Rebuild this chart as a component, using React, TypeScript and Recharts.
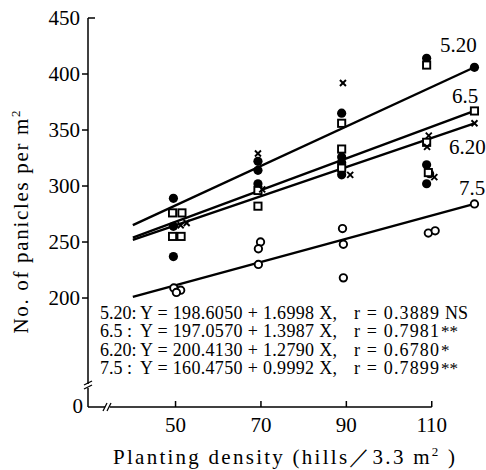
import React from 'react';
import {
  ComposedChart,
  Line,
  Scatter,
  XAxis,
  YAxis,
  ReferenceLine,
} from 'recharts';

// fitted lines, read at both ends (X = 40 and X = 120)
const fitX = [40, 120];
const fit520 = [265, 406];
const fit65 = [254, 367];
const fit620 = [252, 356];
const fit75 = [201, 284];

// observed points per transplanting date
const obs520X = [49.5, 49.5, 49.5, 69.3, 69.3, 69.3, 88.9, 88.9, 88.9, 88.9, 108.8, 108.8, 108.8, 109.5];
const obs520Y = [289, 264, 237, 322, 314, 302, 365, 326, 321, 310, 414, 319, 302, 311];
const obs65X = [49.3, 51.5, 49.3, 51.3, 69.3, 69.3, 88.9, 88.9, 88.9, 108.8, 108.8, 109.2];
const obs65Y = [276, 276, 255, 255, 296, 282, 356, 333, 316, 408, 339, 312];
const obs620X = [51.2, 52.6, 69.3, 70.3, 89.2, 90.9, 89.1, 109.3, 108.9, 110.6];
const obs620Y = [265, 267, 329, 297, 392, 310, 323, 345, 335, 308];
const obs75X = [49.6, 51.2, 50.2, 69.9, 69.4, 69.4, 89.1, 89.3, 89.3, 109.2, 110.8];
const obs75Y = [209, 207, 205, 250, 244, 230, 262, 248, 218, 258, 260];

const eqLabels = ['5.20:', '6.5 :', '6.20:', '7.5 :'];
const eqBodies = [
  'Y = 198.6050 + 1.6998 X,',
  'Y = 197.0570 + 1.3987 X,',
  'Y = 200.4130 + 1.2790 X,',
  'Y = 160.4750 + 0.9992 X,',
];
const eqR = ['r = 0.3889', 'r = 0.7981', 'r = 0.6780', 'r = 0.7899'];
const eqSig = ['NS', '**', '*', '**'];
const lineNames = ['5.20', '6.5', '6.20', '7.5'];

const xTicks = [50, 70, 90, 110];
const Y_MIN = 102.7;
const yTicks = [Y_MIN, 200, 250, 300, 350, 400, 450];

const FONT = '"Liberation Serif", "DejaVu Serif", serif';

const toPts = (xs: number[], ys: number[]) => xs.map((x, i) => ({ x, y: ys[i] }));

type Kind = 'dot' | 'square' | 'cross' | 'ring';

function marker(kind: Kind, cx: number, cy: number, key?: string | number) {
  if (kind === 'dot') return <circle key={key} cx={cx} cy={cy} r={4.6} fill="#000" />;
  if (kind === 'ring')
    return <circle key={key} cx={cx} cy={cy} r={3.7} fill="#fff" stroke="#000" strokeWidth={1.9} />;
  if (kind === 'square')
    return (
      <rect key={key} x={cx - 3.6} y={cy - 3.6} width={7.2} height={7.2} fill="#fff" stroke="#000" strokeWidth={1.9} />
    );
  return (
    <g key={key} stroke="#000" strokeWidth={1.9}>
      <line x1={cx - 3} y1={cy - 3} x2={cx + 3} y2={cy + 3} />
      <line x1={cx - 3} y1={cy + 3} x2={cx + 3} y2={cy - 3} />
    </g>
  );
}

const series: { kind: Kind; fit: number[]; xs: number[]; ys: number[] }[] = [
  { kind: 'dot', fit: fit520, xs: obs520X, ys: obs520Y },
  { kind: 'square', fit: fit65, xs: obs65X, ys: obs65Y },
  { kind: 'cross', fit: fit620, xs: obs620X, ys: obs620Y },
  { kind: 'ring', fit: fit75, xs: obs75X, ys: obs75Y },
];

const XTick = (props: any) => {
  const { x, y, payload } = props;
  return (
    <g>
      <line x1={x} y1={y} x2={x} y2={y - 6} stroke="#000" strokeWidth={1.5} />
      <text x={x} y={y + 25} textAnchor="middle" fontSize={21} fontFamily={FONT} fill="#000">
        {payload.value}
      </text>
    </g>
  );
};

const YTick = (props: any) => {
  const { x, y, payload } = props;
  if (payload.value === Y_MIN) {
    return (
      <g>
        <text x={x - 5} y={y + 6} textAnchor="end" fontSize={21} fontFamily={FONT} fill="#000">
          0
        </text>
        <rect x={x - 4} y={y - 23} width={8} height={4} fill="#fff" />
        <line x1={x - 4} y1={y - 18} x2={x + 4} y2={y - 22} stroke="#000" strokeWidth={1.3} />
        <line x1={x - 4} y1={y - 22} x2={x + 4} y2={y - 26} stroke="#000" strokeWidth={1.3} />
        <line x1={x + 15} y1={y + 4} x2={x + 19} y2={y - 4} stroke="#000" strokeWidth={1.3} />
        <line x1={x + 19} y1={y + 4} x2={x + 23} y2={y - 4} stroke="#000" strokeWidth={1.3} />
      </g>
    );
  }
  const top = payload.value === 450;
  return (
    <g>
      <line x1={x} y1={y} x2={top ? x + 7 : x - 6} y2={y} stroke="#000" strokeWidth={1.5} />
      <text x={x - 8} y={y + 7} textAnchor="end" fontSize={21} fontFamily={FONT} fill="#000">
        {payload.value}
      </text>
    </g>
  );
};

export default function App() {
  return (
    <div style={{ position: 'absolute', left: 0, top: 0, width: 486, height: 470, background: '#fff' }}>
      <ComposedChart width={486} height={470} margin={{ top: 18, right: 3, left: 28, bottom: 33 }}>
        <XAxis
          dataKey="x"
          type="number"
          domain={[29.5, 122]}
          ticks={xTicks}
          allowDataOverflow
          axisLine={false}
          tickLine={false}
          tickSize={0}
          tickMargin={0}
          tick={<XTick />}
          height={30}
        />
        <YAxis
          dataKey="y"
          type="number"
          domain={[Y_MIN, 450]}
          ticks={yTicks}
          allowDataOverflow
          axisLine={{ stroke: '#000', strokeWidth: 1.5 }}
          tickLine={false}
          tickSize={0}
          tickMargin={0}
          tick={<YTick />}
          width={60}
        />
        <ReferenceLine
          segment={[{ x: 29.5, y: Y_MIN }, { x: 33.5, y: Y_MIN }]}
          stroke="#000"
          strokeWidth={1.5}
          ifOverflow="visible"
        />
        <ReferenceLine
          segment={[{ x: 34.6, y: Y_MIN }, { x: 110, y: Y_MIN }]}
          stroke="#000"
          strokeWidth={1.5}
          ifOverflow="visible"
        />
        {series.map((s, i) => (
          <Line
            key={'fit' + i}
            data={toPts(fitX, s.fit)}
            dataKey="y"
            stroke="#000"
            strokeWidth={2.4}
            isAnimationActive={false}
            dot={(p: any) =>
              p.index === 1 ? marker(s.kind, p.cx, p.cy, 'e' + i) : <g key={'n' + i + '-' + p.index} />
            }
            activeDot={false}
          />
        ))}
        {series.map((s, i) => (
          <Scatter
            key={'obs' + i}
            data={toPts(s.xs, s.ys)}
            isAnimationActive={false}
            shape={(p: any) => marker(s.kind, p.cx, p.cy)}
          />
        ))}
      </ComposedChart>
      <svg
        width={486}
        height={470}
        style={{ position: 'absolute', left: 0, top: 0, pointerEvents: 'none' }}
        fontFamily={FONT}
      >
        <text
          transform="translate(28,222) rotate(-90)"
          textAnchor="middle"
          fontSize={21}
          fill="#000"
          textLength={223}
          lengthAdjust="spacing"
        >
          No. of panicles per m<tspan dy={-8} fontSize={13}>2</tspan>
        </text>
        <text x={113} y={464} fontSize={21} fill="#000" textLength={342} lengthAdjust="spacing">
          Planting density (hills／3.3 m<tspan dy={-8} fontSize={13}>2</tspan>
          <tspan dy={8}> )</tspan>
        </text>
        <text x={440} y={52} fontSize={21} fill="#000">{lineNames[0]}</text>
        <text x={452} y={103} fontSize={21} fill="#000">{lineNames[1]}</text>
        <text x={449} y={154} fontSize={21} fill="#000">{lineNames[2]}</text>
        <text x={459} y={195} fontSize={21} fill="#000">{lineNames[3]}</text>
        {eqLabels.map((lab, i) => (
          <g key={lab} fontSize={18} fill="#000">
            <text x={100} y={319 + i * 18.3}>{lab}</text>
            <text x={140} y={319 + i * 18.3} textLength={197} lengthAdjust="spacing">
              {eqBodies[i]}
            </text>
            <text x={354} y={319 + i * 18.3} textLength={85} lengthAdjust="spacing">
              {eqR[i]}
            </text>
            <text x={eqSig[i] === 'NS' ? 445 : 441} y={319 + i * 18.3} fontSize={eqSig[i] === 'NS' ? 18 : 17}>
              {eqSig[i]}
            </text>
          </g>
        ))}
      </svg>
    </div>
  );
}
